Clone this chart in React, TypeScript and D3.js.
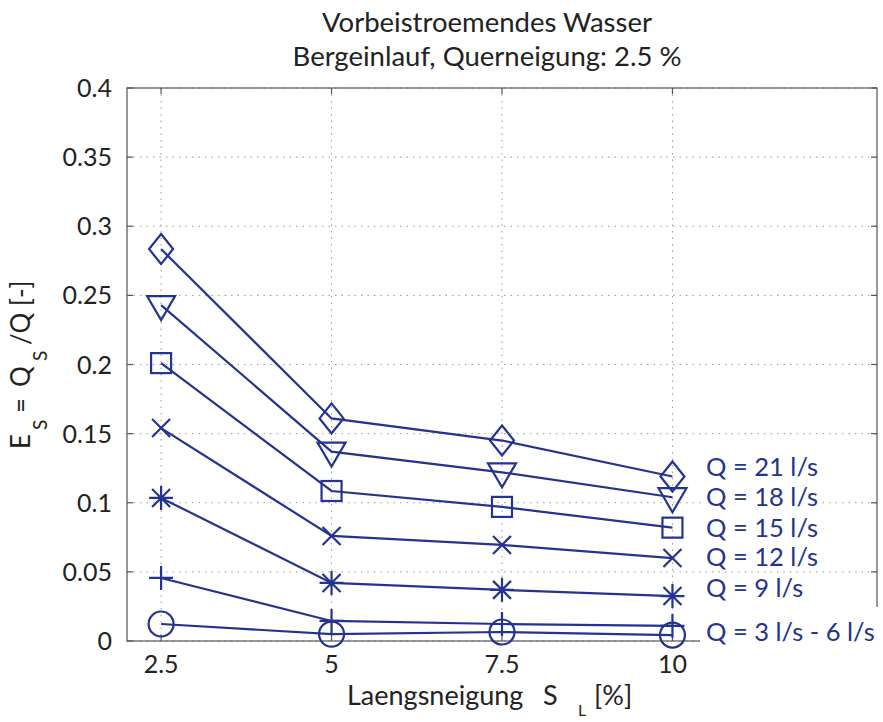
import React from "react";
import * as d3 from "d3";

// Longitudinal slopes S_L [%]
const slopes = [2.5, 5, 7.5, 10];

// Bypass ratio E_S = Q_S/Q for each inflow rate
const q21 = [0.2835, 0.161, 0.145, 0.119];
const q18 = [0.243, 0.137, 0.122, 0.104];
const q15 = [0.201, 0.1085, 0.097, 0.082];
const q12 = [0.154, 0.076, 0.0695, 0.06];
const q9 = [0.1035, 0.042, 0.037, 0.0325];
const q6 = [0.0456, 0.0145, 0.0123, 0.011];
const q3 = [0.0123, 0.005, 0.0065, 0.0043];

const seriesValues = [q21, q18, q15, q12, q9, q6, q3];
const seriesMarkers = ["diamond", "triangle", "square", "x", "star", "plus", "circle"];

const labelTexts = ["Q = 21 l/s", "Q = 18 l/s", "Q = 15 l/s", "Q = 12 l/s", "Q = 9 l/s", "Q = 3 l/s - 6 l/s"];
// label anchors on the value axis
const labelAnchors = [0.126, 0.104, 0.082, 0.0605, 0.0385, 0.0065];

const xTicks = [2.5, 5, 7.5, 10];
const xTickLabels = ["2.5", "5", "7.5", "10"];
const yTicks = [0, 0.05, 0.1, 0.15, 0.2, 0.25, 0.3, 0.35, 0.4];
const yTickLabels = ["0", "0.05", "0.1", "0.15", "0.2", "0.25", "0.3", "0.35", "0.4"];

const W = 883;
const H = 722;
const left = 127;
const right = 877;
const top = 88;
const bottom = 641;

const NAVY = "#24338f";
const TEXT = "#222";
const FONT = "Lato, 'Open Sans', sans-serif";

function Marker({ type, cx, cy }: { type: string; cx: number; cy: number }) {
  const p = { fill: "none", stroke: NAVY, strokeWidth: 2.2 };
  switch (type) {
    case "diamond":
      return <path {...p} d={`M${cx},${cy - 15}L${cx + 12},${cy}L${cx},${cy + 15}L${cx - 12},${cy}Z`} />;
    case "triangle":
      return <path {...p} d={`M${cx - 14},${cy - 9}L${cx + 14},${cy - 9}L${cx},${cy + 15}Z`} />;
    case "square":
      return <rect {...p} x={cx - 10} y={cy - 10} width={20} height={20} />;
    case "x":
      return <path {...p} d={`M${cx - 9},${cy - 9}L${cx + 9},${cy + 9}M${cx - 9},${cy + 9}L${cx + 9},${cy - 9}`} />;
    case "star":
      return (
        <path
          {...p}
          d={`M${cx},${cy - 12}L${cx},${cy + 12}M${cx - 12},${cy}L${cx + 12},${cy}M${cx - 9},${cy - 9}L${cx + 9},${cy + 9}M${cx - 9},${cy + 9}L${cx + 9},${cy - 9}`}
        />
      );
    case "plus":
      return <path {...p} d={`M${cx},${cy - 12}L${cx},${cy + 12}M${cx - 12},${cy}L${cx + 12},${cy}`} />;
    default:
      return <circle {...p} cx={cx} cy={cy} r={12.5} />;
  }
}

export default function App() {
  const x = d3.scaleLinear().domain([2, 13]).range([left, right]);
  const y = d3.scaleLinear().domain([0, 0.4]).range([bottom, top]);
  const line = d3
    .line<number>()
    .x((_, i) => x(slopes[i]))
    .y((v) => y(v));

  return (
    <svg width={W} height={H} style={{ position: "absolute", left: 0, top: 0, background: "#fff" }}>
      <rect width={W} height={H} fill="#fff" />
      {/* title */}
      <text x={487} y={32} textAnchor="middle" fontFamily={FONT} fontSize={27.5} fill={TEXT}>
        Vorbeistroemendes Wasser
      </text>
      <text x={487} y={66} textAnchor="middle" fontFamily={FONT} fontSize={27.5} fill={TEXT}>
        Bergeinlauf, Querneigung: 2.5 %
      </text>

      {/* grid */}
      <g stroke="#9a9a9a" strokeWidth={1} strokeDasharray="1.5,5">
        {xTicks.map((t) => (
          <line key={"gx" + t} x1={x(t)} x2={x(t)} y1={top} y2={bottom} />
        ))}
        {yTicks.map((t) => (
          <line key={"gy" + t} x1={left} x2={right} y1={y(t)} y2={y(t)} />
        ))}
      </g>

      {/* frame and ticks */}
      <g stroke="#555" strokeWidth={1.2} fill="none">
        <rect x={left} y={top} width={right - left} height={bottom - top} />
        {xTicks.map((t) => (
          <g key={"tx" + t}>
            <line x1={x(t)} x2={x(t)} y1={bottom} y2={bottom - 6} />
            <line x1={x(t)} x2={x(t)} y1={top} y2={top + 6} />
          </g>
        ))}
        {yTicks.map((t) => (
          <g key={"ty" + t}>
            <line x1={left} x2={left + 6} y1={y(t)} y2={y(t)} />
            <line x1={right} x2={right - 6} y1={y(t)} y2={y(t)} />
          </g>
        ))}
      </g>

      {/* tick labels */}
      <g fontFamily={FONT} fontSize={25} fill={TEXT}>
        {yTicks.map((t, i) => (
          <text key={"ly" + t} x={left - 15} y={y(t) + 9} textAnchor="end">
            {yTickLabels[i]}
          </text>
        ))}
        {xTicks.map((t, i) => (
          <text key={"lx" + t} x={x(t)} y={bottom + 32} textAnchor="middle">
            {xTickLabels[i]}
          </text>
        ))}
      </g>

      {/* axis titles */}
      <g fontFamily={FONT} fill={TEXT}>
        <text y={705} fontSize={27}>
          <tspan x={347}>Laengsneigung</tspan>
          <tspan x={543}>S</tspan>
          <tspan x={578} y={716} fontSize={16}>L</tspan>
          <tspan x={594} y={705}>[%]</tspan>
        </text>
        <text transform="translate(30,449) rotate(-90)" fontSize={26}>
          <tspan x={0} y={0}>E</tspan>
          <tspan x={19} y={17} fontSize={19}>S</tspan>
          <tspan x={36} y={0}>=</tspan>
          <tspan x={62} y={0}>Q</tspan>
          <tspan x={88} y={17} fontSize={19}>S</tspan>
          <tspan x={104} y={0}>/Q</tspan>
          <tspan x={143} y={0}>[-]</tspan>
        </text>
      </g>

      {/* series */}
      {seriesValues.map((vals, si) => (
        <g key={"s" + si}>
          <path d={line(vals) || ""} fill="none" stroke={NAVY} strokeWidth={2.2} />
          {vals.map((v, i) => (
            <Marker key={i} type={seriesMarkers[si]} cx={x(slopes[i])} cy={y(v)} />
          ))}
        </g>
      ))}

      {/* series labels */}
      <g fontFamily={FONT} fontSize={25.5} fill={NAVY}>
        {labelTexts.map((t, i) => {
          const cy = y(labelAnchors[i]);
          const last = i === labelTexts.length - 1;
          return (
            <g key={"lab" + i}>
              {last ? (
                <rect x={700} y={607} width={W - 700} height={60} fill="#fff" />
              ) : (
                <rect x={704} y={cy - 13} width={t.length * 11.8} height={26} fill="#fff" />
              )}
              <text x={706} y={cy + 9}>
                {t}
              </text>
            </g>
          );
        })}
      </g>
    </svg>
  );
}
